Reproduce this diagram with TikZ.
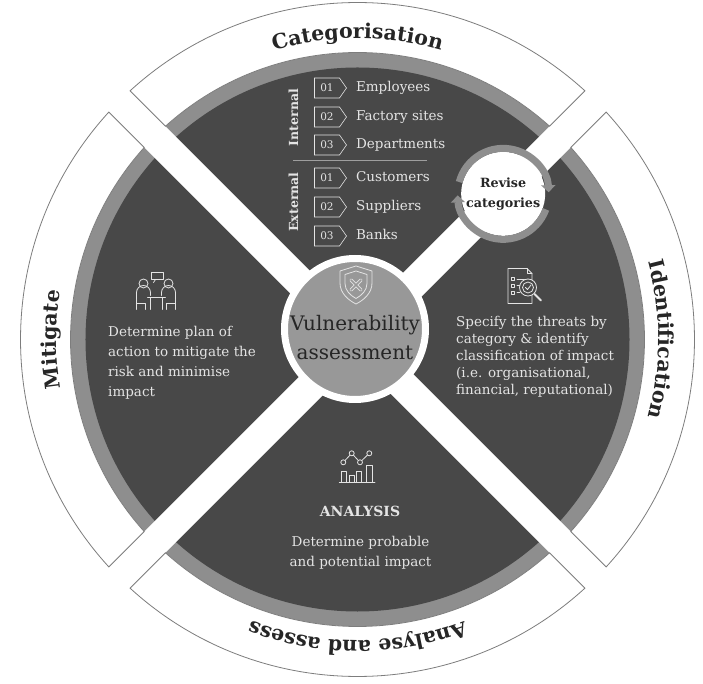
\documentclass[tikz,border=0pt]{standalone}
\usepackage{fontspec}
\setmainfont{DejaVu Serif}
\usepackage{tikz}
\usetikzlibrary{calc,positioning,shapes.symbols,arrows.meta,decorations.text}
\definecolor{discgray}{RGB}{72,72,72}
\definecolor{ringgray}{RGB}{142,142,142}
\definecolor{coregray}{RGB}{152,152,152}
\definecolor{edgegray}{RGB}{125,125,125}
\definecolor{softtext}{RGB}{228,228,228}
\definecolor{inktext}{RGB}{38,38,38}
\def\bandpiece(#1){\draw[line width=0.8pt, draw=edgegray, fill=white] (#1-42.45:337) arc (#1-42.45:#1+42.45:337) -- (#1+42.0:287) arc (#1+42.0:#1-42.0:287) -- cycle;}
\def\bandlabel(#1:#2)#3{\path[decorate, decoration={text along path, text={|\fontsize{20.5}{21}\selectfont\bfseries|#3}, text align=center, text color=inktext}] (#1:301) arc (#1:#2:301);}
\tikzset{
	numbox/.style={draw=softtext, line width=0.6pt, signal, signal to=east, signal pointer angle=110, minimum width=32pt, minimum height=20pt, inner sep=0pt, text=softtext, font=\fontsize{10.5}{11}\selectfont},
	catname/.style={text=softtext, font=\fontsize{13.5}{16}\selectfont, inner sep=0pt, text height=9.5pt, text depth=2.5pt},
	grouptag/.style={text=softtext, font=\fontsize{12.5}{14}\selectfont\bfseries, rotate=90, inner sep=0pt},
	bodytext/.style={text=softtext, align=left, inner sep=0pt},
	iconline/.style={draw=softtext, line width=0.8pt, line join=round, line cap=round},
	revring/.style={draw=ringgray, line width=7pt, -{Triangle[width=14pt,length=7pt]}},
}
\begin{document}
\begin{tikzpicture}[x=1pt, y=1pt]
		%%%%% START %%%%%
		
		\useasboundingbox[fill=white] (-357.5,-344.5) rectangle (345.5,339.5);
		
		% disc, ring and cross
		\fill[ringgray] (0,0) circle (287);
		\fill[discgray] (0,0) circle (272);
		\fill[white, rotate=45] (-295,-15) rectangle (295,15);
		\fill[white, rotate=-45] (-295,-15) rectangle (295,15);
		
		% outer bands
		\bandpiece(90)
		\bandpiece(0)
		\bandpiece(180)
		\bandpiece(270)
		\bandlabel(150:30){Categorisation}
		\bandlabel(60:-60){Identification}
		\bandlabel(-30:-150){Analyse and assess}
		\bandlabel(240:120){Mitigate}
		
		% centre
		\node[circle, draw=white, line width=7pt, fill=coregray, minimum size=141pt, inner sep=0pt] (core) at (-2.5,10.5) {};
		\node[align=center, text=inktext, font=\fontsize{20}{29}\selectfont] (coretitle) at (-2.5,2) {Vulnerability\\assessment};
		\begin{scope}[shift={(-1.5,54.5)}]
			\draw[iconline] (0,19) -- (16,14) -- (16,2) .. controls (16,-8) and (8,-15) .. (0,-19) .. controls (-8,-15) and (-16,-8) .. (-16,2) -- (-16,14) -- cycle;
			\draw[iconline] (0,14) -- (11,10.5) -- (11,1.5) .. controls (11,-5.5) and (5.5,-10.5) .. (0,-13.5) .. controls (-5.5,-10.5) and (-11,-5.5) .. (-11,1.5) -- (-11,10.5) -- cycle;
			\draw[iconline, double=coregray, double distance=1.6pt] (-5,-5) -- (5,5) (-5,5) -- (5,-5);
		\end{scope}
		
		% revise categories
		\node[circle, fill=white, minimum size=84pt, inner sep=0pt, align=center, text=inktext, font=\fontsize{12.7}{20}\selectfont\bfseries] (rev) at (45:206) {Revise\\categories};
		\draw[revring] ([shift={(165:45.5)}]rev.center) arc (165:2:45.5);
		\draw[revring] ([shift={(-20:45.5)}]rev.center) arc (-20:-178:45.5);
		
		% categories
		\node[grouptag] (internal) at (-64,222) {Internal};
		\node[numbox] (in1) at (-30.5,251.5) {01};
		\node[numbox] (in2) at (-30.5,222.5) {02};
		\node[numbox] (in3) at (-30.5,194.5) {03};
		\node[catname, right=9pt of in1] (employees) {Employees};
		\node[catname, right=9pt of in2] (sites) {Factory sites};
		\node[catname, right=9pt of in3] (departments) {Departments};
		
		\draw[softtext!55!discgray, line width=0.7pt] (-64.5,178.8) -- (69.5,178.8);
		
		\node[grouptag] (external) at (-64,137.5) {External};
		\node[numbox] (ex1) at (-30.5,161.5) {01};
		\node[numbox] (ex2) at (-30.5,132.5) {02};
		\node[numbox] (ex3) at (-30.5,103.5) {03};
		\node[catname, right=9pt of ex1] (customers) {Customers};
		\node[catname, right=9pt of ex2] (suppliers) {Suppliers};
		\node[catname, right=9pt of ex3] (banks) {Banks};
		
		% identification
		\begin{scope}[shift={(167.5,54)}]
			\draw[iconline] (-17,-18) -- (-17,17) -- (2,17) -- (7,12) -- (7,-18) -- cycle;
			\draw[iconline] (2,17) -- (2,12) -- (7,12);
			\draw[iconline] (-14,5) rectangle (-11,8) (-14,-1.5) rectangle (-11,1.5) (-14,-8.5) rectangle (-11,-5.5);
			\draw[iconline] (-8,6.5) -- (0,6.5) (-8,0) -- (-5,0) (-8,-7) -- (-5,-7);
			\draw[iconline, fill=discgray] (3,-2) circle (8.5);
			\draw[iconline] (3,-2) circle (5.5);
			\draw[iconline] (0.5,-2) -- (2.5,-4) -- (6,0.5);
			\draw[iconline, line width=2pt] (9.5,-8.5) -- (16,-15);
		\end{scope}
		\node[bodytext, anchor=north west, font=\fontsize{13.5}{17}\selectfont] (threattext) at (98.5,23) {Specify the threats by\\category \& identify\\classification of impact\\(i.e. organisational,\\financial, reputational)};
		
		% analysis
		\begin{scope}[shift={(-0.5,-128.5)}]
			\draw[iconline] (-13.7,5.7) -- (-5.3,14.7) -- (3,5.7) -- (12.3,14.7);
			\draw[iconline, fill=discgray] (-13.7,5.7) circle (2.5) (-5.3,14.7) circle (2.5) (3,5.7) circle (2.5) (12.3,14.7) circle (2.5);
			\draw[iconline] (-15.3,-14.7) rectangle (-10.3,-3.7) (-7.7,-14.7) rectangle (-3,-7) (-0.3,-14.7) rectangle (4.7,-3) (9.7,-14.7) rectangle (15.7,3);
			\draw[iconline] (-17.7,-14.7) -- (18,-14.7);
		\end{scope}
		\node[text=softtext, font=\fontsize{14}{15}\selectfont\bfseries] (analysishead) at (2.5,-171.5) {ANALYSIS};
		\node[bodytext, align=center, font=\fontsize{13.5}{20}\selectfont] (analysistext) at (3,-213.5) {Determine probable\\and potential impact};
		
		% mitigate
		\begin{scope}[shift={(-201,48)}]
			\draw[iconline] (-13,8) circle (4.5) (12,8) circle (4.5);
			\draw[iconline] (-5,12) rectangle (7,19);
			\draw[iconline] (-1,12) -- (-3,9);
			\draw[iconline] (-20,-8) -- (-20,-1) arc (180:0:7) -- (-6,-4);
			\draw[iconline] (19,-8) -- (19,-1) arc (0:180:7) -- (5,-4);
			\draw[iconline] (-9,-6) -- (9,-6) (-6,-6) -- (-6,-18) (6,-6) -- (6,-18);
			\draw[iconline] (-20,-8) -- (-20,-18) (-20,-12) -- (-11,-12) -- (-11,-18);
			\draw[iconline] (19,-8) -- (19,-18) (19,-12) -- (10,-12) -- (10,-18);
		\end{scope}
		\node[bodytext, anchor=north west, font=\fontsize{13.5}{20}\selectfont] (plantext) at (-249.5,13) {Determine plan of\\action to mitigate the\\risk and minimise\\impact};
		
		%%%%% END %%%%%
\end{tikzpicture}
\end{document}
